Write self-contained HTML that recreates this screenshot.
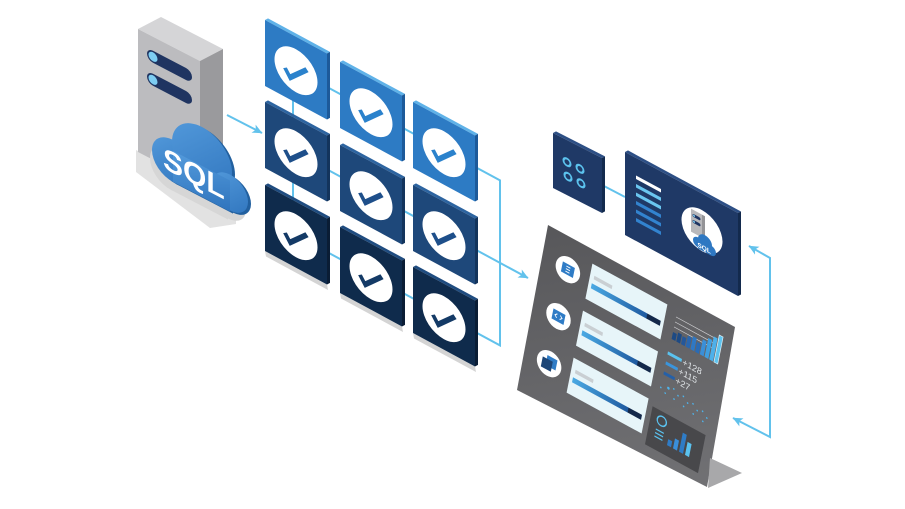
<!DOCTYPE html>
<html><head><meta charset="utf-8"><style>html,body{margin:0;padding:0;background:#fff;}svg{display:block}</style></head>
<body>
<svg width="905" height="509" viewBox="0 0 905 509" xmlns="http://www.w3.org/2000/svg" font-family="Liberation Sans, sans-serif">
<defs>
<marker id="ah" viewBox="0 0 10 10" refX="9.5" refY="5" markerWidth="10" markerHeight="10" markerUnits="userSpaceOnUse" orient="auto-start-reverse"><path d="M0,0.5 L10,5 L0,9.5 L2.5,5 z" fill="#62c2ec"/></marker>
<linearGradient id="cloudg" x1="0" y1="0" x2="1" y2="1"><stop offset="0" stop-color="#549bdc"/><stop offset="1" stop-color="#2f74bd"/></linearGradient>
<linearGradient id="dash" gradientUnits="userSpaceOnUse" x1="600" y1="225" x2="640" y2="487"><stop offset="0" stop-color="#58585b"/><stop offset="1" stop-color="#707073"/></linearGradient>
<linearGradient id="barg" x1="0" x2="1"><stop offset="0" stop-color="#4aa9e3"/><stop offset="0.8" stop-color="#1f5aa0"/><stop offset="0.81" stop-color="#13284a"/><stop offset="1" stop-color="#13284a"/></linearGradient>
<g id="cl"><circle cx="21" cy="50" r="21"/><circle cx="50" cy="31" r="30"/><circle cx="78" cy="52" r="18"/><rect x="21" y="40" width="57" height="31"/></g>
</defs>

<!-- connectors -->
<g stroke="#62c2ec" stroke-width="2" fill="none">
<line x1="293" y1="66" x2="293" y2="236"/>
<polyline points="293,68.6 500,180.4 500,345.4 293,233.6"/>
<line x1="293" y1="151" x2="528" y2="278" marker-end="url(#ah)"/>
<line x1="227" y1="115" x2="262" y2="133" marker-end="url(#ah)"/>
<polyline points="749,246 770,258 770,437 733,418" marker-start="url(#ah)" marker-end="url(#ah)"/>
<line x1="602" y1="185" x2="625" y2="197"/>
</g>

<!-- server -->
<polygon points="136,150 200,183 236,205 236,224 210,228 136,172" fill="#e2e2e2"/>
<polygon points="138,29 161,17 223,49 200,61" fill="#d5d5d7"/>
<polygon points="200,61 223,49 223,172 200,184" fill="#9a9a9d"/>
<polygon points="138,29 200,61 200,184 138,152" fill="#bcbcbf"/>
<g transform="matrix(1,0.52,0,1,138,29)">
<rect x="9" y="14" width="45" height="12" rx="6" fill="#1f3461"/>
<circle cx="15" cy="20" r="4.5" fill="#7dcdf2"/>
<rect x="9" y="37" width="45" height="12" rx="6" fill="#1f3461"/>
<circle cx="15" cy="43" r="4.5" fill="#7dcdf2"/>
</g>

<!-- cloud -->
<g transform="matrix(1,0.52,0,1,152,100)">
<use href="#cl" transform="translate(-2,9)" fill="#d6d6d6"/>
<use href="#cl" transform="translate(3,0.5)" fill="#22609f"/>
<use href="#cl" fill="url(#cloudg)"/>
<text x="11" y="62" font-size="30" font-weight="bold" fill="#fff">SQL</text>
</g>

<!-- tiles -->
<g id="tiles">
<!-- row 1 -->
<g transform="matrix(1,0.54,0,1,265,20)"><polygon points="0,0 3,-3.2 65,-3.2 62,0" fill="#5fb2e8"/><polygon points="62,0 65,-3.2 65,62.8 62,66" fill="#1d5a9a"/><rect width="62" height="66" fill="#2d7bc4"/><circle cx="31" cy="34" r="21.5" fill="#fff"/><path d="M20,37 L25,44 L42,27" stroke="#2b82cc" stroke-width="4.5" fill="none"/></g>
<g transform="matrix(1,0.54,0,1,340,62)"><polygon points="0,0 3,-3.2 65,-3.2 62,0" fill="#5fb2e8"/><polygon points="62,0 65,-3.2 65,62.8 62,66" fill="#1d5a9a"/><rect width="62" height="66" fill="#2d7bc4"/><circle cx="31" cy="34" r="21.5" fill="#fff"/><path d="M20,37 L25,44 L42,27" stroke="#2b82cc" stroke-width="4.5" fill="none"/></g>
<g transform="matrix(1,0.54,0,1,413,102)"><polygon points="0,0 3,-3.2 65,-3.2 62,0" fill="#5fb2e8"/><polygon points="62,0 65,-3.2 65,62.8 62,66" fill="#1d5a9a"/><rect width="62" height="66" fill="#2d7bc4"/><circle cx="31" cy="34" r="21.5" fill="#fff"/><path d="M20,37 L25,44 L42,27" stroke="#2b82cc" stroke-width="4.5" fill="none"/></g>
<!-- row 2 -->
<g transform="matrix(1,0.54,0,1,265,102)"><polygon points="0,0 3,-3.2 65,-3.2 62,0" fill="#2d64a0"/><polygon points="62,0 65,-3.2 65,62.8 62,66" fill="#13345c"/><rect width="62" height="66" fill="#1e487a"/><circle cx="31" cy="34" r="21.5" fill="#fff"/><path d="M20,37 L25,44 L42,27" stroke="#1e4f8a" stroke-width="4.5" fill="none"/></g>
<g transform="matrix(1,0.54,0,1,340,145)"><polygon points="0,0 3,-3.2 65,-3.2 62,0" fill="#2d64a0"/><polygon points="62,0 65,-3.2 65,62.8 62,66" fill="#13345c"/><rect width="62" height="66" fill="#1e487a"/><circle cx="31" cy="34" r="21.5" fill="#fff"/><path d="M20,37 L25,44 L42,27" stroke="#1e4f8a" stroke-width="4.5" fill="none"/></g>
<g transform="matrix(1,0.54,0,1,413,185)"><polygon points="0,0 3,-3.2 65,-3.2 62,0" fill="#2d64a0"/><polygon points="62,0 65,-3.2 65,62.8 62,66" fill="#13345c"/><rect width="62" height="66" fill="#1e487a"/><circle cx="31" cy="34" r="21.5" fill="#fff"/><path d="M20,37 L25,44 L42,27" stroke="#1e4f8a" stroke-width="4.5" fill="none"/></g>
<!-- row 3 -->
<g transform="matrix(1,0.54,0,1,265,185)"><polygon points="0,66 62,66 63,71 1,71" fill="#d4d4d4"/><polygon points="0,0 3,-3.2 65,-3.2 62,0" fill="#1f4c80"/><polygon points="62,0 65,-3.2 65,62.8 62,66" fill="#0a1d35"/><rect width="62" height="66" fill="#0f2b4c"/><circle cx="31" cy="34" r="21.5" fill="#fff"/><path d="M20,37 L25,44 L42,27" stroke="#143a66" stroke-width="4.5" fill="none"/></g>
<g transform="matrix(1,0.54,0,1,340,227)"><polygon points="0,66 62,66 63,71 1,71" fill="#d4d4d4"/><polygon points="0,0 3,-3.2 65,-3.2 62,0" fill="#1f4c80"/><polygon points="62,0 65,-3.2 65,62.8 62,66" fill="#0a1d35"/><rect width="62" height="66" fill="#0f2b4c"/><circle cx="31" cy="34" r="21.5" fill="#fff"/><path d="M20,37 L25,44 L42,27" stroke="#143a66" stroke-width="4.5" fill="none"/></g>
<g transform="matrix(1,0.54,0,1,413,267)"><polygon points="0,66 62,66 63,71 1,71" fill="#d4d4d4"/><polygon points="0,0 3,-3.2 65,-3.2 62,0" fill="#1f4c80"/><polygon points="62,0 65,-3.2 65,62.8 62,66" fill="#0a1d35"/><rect width="62" height="66" fill="#0f2b4c"/><circle cx="31" cy="34" r="21.5" fill="#fff"/><path d="M20,37 L25,44 L42,27" stroke="#143a66" stroke-width="4.5" fill="none"/></g>
</g>

<!-- small square -->
<g transform="matrix(1,0.51,0,1,553,133)">
<polygon points="0,0 3,-3.2 52,-3.2 49,0" fill="#2d4f85"/>
<polygon points="49,0 52,-3.2 52,51.8 49,55" fill="#132a4d"/>
<rect width="49" height="55" fill="#1f3966"/>
<g fill="#1f3966" stroke="#5cc3ee" stroke-width="2">
<circle cx="14" cy="22" r="3.5"/><circle cx="27" cy="22" r="3.5"/><circle cx="15" cy="36" r="3.5"/><circle cx="28" cy="36" r="3.5"/>
</g>
</g>

<!-- large navy panel -->
<g transform="matrix(1,0.54,0,1,625,152)">
<polygon points="0,0 3,-3.2 116,-3.2 113,0" fill="#2d4f85"/>
<polygon points="113,0 116,-3.2 116,79.8 113,83" fill="#132a4d"/>
<rect width="113" height="83" fill="#1f3966"/>
<rect x="11" y="17.5" width="25" height="3.5" fill="#ffffff"/>
<rect x="11" y="26" width="25" height="3.5" fill="#6ac6f0"/>
<rect x="11" y="34.5" width="25" height="3.5" fill="#6ac6f0"/>
<rect x="11" y="43" width="25" height="3.5" fill="#3283cf"/>
<rect x="11" y="51.5" width="25" height="3.5" fill="#3283cf"/>
<rect x="11" y="60" width="25" height="3.5" fill="#3283cf"/>
<circle cx="77" cy="37" r="20.5" fill="#fff"/>
<rect x="66" y="21" width="11" height="23" fill="#b8b8bb"/>
<rect x="77" y="21" width="3" height="23" fill="#949497"/>
<rect x="67.5" y="25" width="8" height="3" rx="1.5" fill="#1f3461"/>
<rect x="67.5" y="31" width="8" height="3" rx="1.5" fill="#1f3461"/>
<circle cx="69" cy="26.5" r="1" fill="#7dcdf2"/>
<circle cx="69" cy="32.5" r="1" fill="#7dcdf2"/>
<g fill="#2f78c2"><circle cx="73" cy="51" r="5"/><circle cx="80" cy="47" r="7"/><circle cx="86" cy="52" r="5"/><rect x="73" y="50" width="13" height="7"/></g>
<text x="72.5" y="55.5" font-size="6.5" font-weight="bold" fill="#fff">SQL</text>
</g>

<!-- dashboard -->
<polygon points="548,225 735,327 707,487 517,390" fill="url(#dash)"/>
<polygon points="710,458 742,473 708,488" fill="#a8a8aa"/>
<g transform="matrix(1,0.545,-0.2,1,548,225)">
<!-- icon circles -->
<circle cx="26" cy="30.5" r="12" fill="#fff"/>
<rect x="20" y="25.5" width="12" height="10" fill="#2f7cc6"/>
<g stroke="#fff" stroke-width="0.9"><line x1="24" y1="28" x2="28" y2="28"/><line x1="24" y1="30.5" x2="28" y2="30.5"/><line x1="24" y1="33" x2="28" y2="33"/></g>
<circle cx="26" cy="77.5" r="12" fill="#fff"/>
<rect x="20" y="72.5" width="12" height="10" fill="#2f7cc6"/>
<path d="M24.5,75.5 L22.5,77.5 L24.5,79.5 M27.5,75.5 L29.5,77.5 L27.5,79.5" stroke="#fff" stroke-width="0.9" fill="none"/>
<circle cx="26" cy="124.5" r="12" fill="#fff"/>
<rect x="23" y="117.5" width="10" height="10" fill="#2f7cc6"/>
<rect x="19" y="121" width="10" height="10" fill="#1d4677"/>
<!-- cards -->
<g>
<rect x="47" y="13" width="75" height="35" fill="#e7f5f9"/>
<rect x="51" y="23" width="18" height="3.5" fill="#c9cfd3"/>
<rect x="50" y="31" width="69" height="5" fill="url(#barg)"/>
<rect x="47" y="60" width="75" height="35" fill="#e7f5f9"/>
<rect x="51" y="70" width="18" height="3.5" fill="#c9cfd3"/>
<rect x="50" y="78" width="69" height="5" fill="url(#barg)"/>
<rect x="47" y="107" width="75" height="35" fill="#e7f5f9"/>
<rect x="51" y="117" width="18" height="3.5" fill="#c9cfd3"/>
<rect x="50" y="125" width="69" height="5" fill="url(#barg)"/>
</g>
<!-- bar chart -->
<g stroke="#cfcfd2" stroke-width="0.7"><line x1="132" y1="20" x2="172" y2="20"/><line x1="132" y1="25" x2="172" y2="25"/><line x1="132" y1="30" x2="172" y2="30"/></g>
<rect x="132" y="35" width="3.8" height="7" fill="#1d4a84"/>
<rect x="136.7" y="33" width="3.8" height="9" fill="#1d4a84"/>
<rect x="141.4" y="34" width="3.8" height="8" fill="#24579a"/>
<rect x="146.1" y="31" width="3.8" height="11" fill="#2a66ae"/>
<rect x="150.8" y="29" width="3.8" height="13" fill="#2f78c4"/>
<rect x="155.5" y="32" width="3.8" height="10" fill="#2a6bb5"/>
<rect x="160.2" y="27" width="3.8" height="15" fill="#3a8fd8"/>
<rect x="164.9" y="23" width="3.8" height="19" fill="#3f9ee0"/>
<rect x="169.6" y="19" width="3.8" height="23" fill="#4db0ea"/>
<rect x="174.3" y="15" width="3.8" height="27" fill="#5ec4f0" stroke="#e8f6fc" stroke-width="0.6"/>
<!-- stats -->
<rect x="131" y="55" width="14" height="3" fill="#5ac2ef"/>
<rect x="131" y="65" width="12" height="3" fill="#3a95dc"/>
<rect x="131" y="75" width="11" height="3" fill="#2560a8"/>
<g fill="#dfe3e6" font-size="8.5"><text x="146" y="60">+128</text><text x="144" y="70">+115</text><text x="143" y="80">+27</text></g>
<!-- dots -->
<g fill="#4fb3ea">
<circle cx="138" cy="88" r="1.3"/><circle cx="131" cy="91" r="0.8"/><circle cx="143" cy="86" r="0.8"/><circle cx="148" cy="90" r="0.8"/><circle cx="153" cy="88" r="0.8"/><circle cx="158" cy="92" r="0.8"/><circle cx="163" cy="90" r="0.8"/><circle cx="168" cy="94" r="0.8"/><circle cx="173" cy="92" r="0.8"/><circle cx="178" cy="96" r="0.8"/><circle cx="136" cy="94" r="0.8"/><circle cx="145" cy="95" r="0.8"/><circle cx="155" cy="97" r="0.8"/><circle cx="165" cy="99" r="0.8"/><circle cx="175" cy="101" r="0.8"/>
</g>
<!-- bottom box -->
<rect x="127" y="112" width="53" height="38" fill="#48484b"/>
<circle cx="138" cy="121" r="4.5" fill="none" stroke="#5bc2ef" stroke-width="1.3"/>
<g stroke="#5bc2ef" stroke-width="1.2"><line x1="134" y1="131" x2="142" y2="131"/><line x1="134" y1="134.5" x2="142" y2="134.5"/><line x1="134" y1="138" x2="142" y2="138"/></g>
<rect x="147" y="134" width="4" height="6" fill="#2f7cc6"/>
<rect x="153" y="130" width="4" height="10" fill="#3a8fdb"/>
<rect x="159" y="121" width="4" height="19" fill="#2f7cc6"/>
<rect x="165" y="127" width="4" height="13" fill="#5bc2ef"/>
</g>
</svg>
</body></html>
